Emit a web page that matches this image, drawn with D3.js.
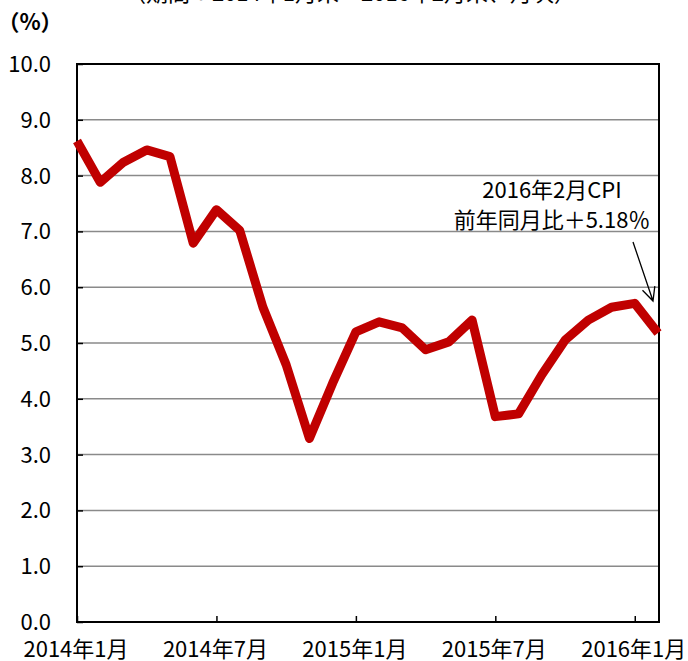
<!DOCTYPE html>
<html lang="ja">
<head>
<meta charset="utf-8">
<script src="https://cdn.jsdelivr.net/npm/d3@7"></script>
<style>
    html, body { margin: 0; padding: 0; background: #fff; }
    svg { display: block; font-family: "Noto Sans CJK JP", "Noto Sans", sans-serif; }
</style>
</head>
<body>
<div id="chart"></div>
<script>
// ===== Data =====
const months = [
    '2014-01', '2014-02', '2014-03', '2014-04', '2014-05', '2014-06',
    '2014-07', '2014-08', '2014-09', '2014-10', '2014-11', '2014-12',
    '2015-01', '2015-02', '2015-03', '2015-04', '2015-05', '2015-06',
    '2015-07', '2015-08', '2015-09', '2015-10', '2015-11', '2015-12',
    '2016-01', '2016-02'
];
const cpiYoY = [
    8.62, 7.88, 8.24, 8.46, 8.34, 6.79,
    7.39, 7.02, 5.64, 4.61, 3.29, 4.28,
    5.20, 5.38, 5.27, 4.88, 5.02, 5.41,
    3.68, 3.73, 4.43, 5.05, 5.41, 5.64,
    5.71, 5.18
];
const xTickMonths = ['2014-01', '2014-07', '2015-01', '2015-07', '2016-01'];
const xTickLabels = ['2014年1月', '2014年7月', '2015年1月', '2015年7月', '2016年1月'];
const yTicks = [0, 1, 2, 3, 4, 5, 6, 7, 8, 9, 10];

const titleText = '（期間：2014年1月末～2016年2月末、月次）';
const unitText = '（%）';
const noteLines = ['2016年2月CPI', '前年同月比＋5.18％'];

// ===== Config =====
const CONFIG = {
    width: 688,
    height: 661,
    plot: { left: 77, right: 659, top: 64, bottom: 622 },
    lineEnd: 658,
    colors: { line: '#c00000', grid: '#8a8a8a', frame: '#000' },
    fontSize: 22
};

function drawChart() {
    const p = CONFIG.plot;

    const svg = d3.select('#chart').append('svg')
        .attr('width', CONFIG.width)
        .attr('height', CONFIG.height);

    const x = d3.scalePoint()
        .domain(months)
        .range([p.left, CONFIG.lineEnd]);

    const y = d3.scaleLinear()
        .domain([0, 10])
        .range([p.bottom, p.top]);

    // grid lines
    svg.append('g')
        .selectAll('line')
        .data(yTicks.filter(d => d > 0 && d < 10))
        .enter()
        .append('line')
        .attr('x1', p.left)
        .attr('x2', p.right)
        .attr('y1', d => y(d))
        .attr('y2', d => y(d))
        .attr('stroke', CONFIG.colors.grid)
        .attr('stroke-width', 1.5);

    // y axis ticks (inward) + labels
    const yAxis = svg.append('g')
        .attr('transform', `translate(${p.left},0)`)
        .call(d3.axisRight(y).tickValues(yTicks).tickSize(6).tickFormat(''));
    yAxis.select('.domain').remove();
    yAxis.selectAll('line').attr('stroke', CONFIG.colors.frame).attr('stroke-width', 1.5);

    svg.append('g')
        .selectAll('text')
        .data(yTicks)
        .enter()
        .append('text')
        .attr('x', 51)
        .attr('y', d => y(d))
        .attr('dy', '0.36em')
        .attr('text-anchor', 'end')
        .attr('font-size', CONFIG.fontSize)
        .text(d => d.toFixed(1));

    // x axis ticks (inward) + labels
    const xAxis = svg.append('g')
        .attr('transform', `translate(0,${p.bottom})`)
        .call(d3.axisTop(x).tickValues(xTickMonths).tickSize(6).tickFormat(''));
    xAxis.select('.domain').remove();
    xAxis.selectAll('line').attr('stroke', CONFIG.colors.frame).attr('stroke-width', 1.5);

    svg.append('g')
        .selectAll('text')
        .data(xTickMonths)
        .enter()
        .append('text')
        .attr('x', d => x(d) - 1)
        .attr('y', 657)
        .attr('text-anchor', 'middle')
        .attr('font-size', CONFIG.fontSize)
        .text((d, i) => xTickLabels[i]);

    // frame
    svg.append('rect')
        .attr('x', p.left)
        .attr('y', p.top)
        .attr('width', p.right - p.left)
        .attr('height', p.bottom - p.top)
        .attr('fill', 'none')
        .attr('stroke', CONFIG.colors.frame)
        .attr('stroke-width', 2);

    // CPI line
    const line = d3.line()
        .x((d, i) => x(months[i]))
        .y(d => y(d));

    svg.append('path')
        .datum(cpiYoY)
        .attr('d', line)
        .attr('fill', 'none')
        .attr('stroke', CONFIG.colors.line)
        .attr('stroke-width', 9)
        .attr('stroke-linejoin', 'round');

    // title (cut off at the top) and unit
    svg.append('text')
        .attr('x', 350)
        .attr('y', 1)
        .attr('text-anchor', 'middle')
        .attr('font-size', CONFIG.fontSize)
        .text(titleText);

    svg.append('text')
        .attr('x', 30)
        .attr('y', 22)
        .attr('dy', '0.36em')
        .attr('text-anchor', 'middle')
        .attr('font-size', CONFIG.fontSize)
        .attr('font-weight', 'bold')
        .text(unitText);

    // annotation
    svg.append('g')
        .selectAll('text')
        .data(noteLines)
        .enter()
        .append('text')
        .attr('x', 552)
        .attr('y', (d, i) => 198 + i * 30)
        .attr('text-anchor', 'middle')
        .attr('font-size', CONFIG.fontSize)
        .text(d => d);

    // arrow pointing at the last point
    const from = [633, 242], to = [653, 301];
    const ang = Math.atan2(to[1] - from[1], to[0] - from[0]);
    const head = 15, spread = Math.PI / 7;
    const wing = s => [to[0] - head * Math.cos(ang + s), to[1] - head * Math.sin(ang + s)];
    svg.append('path')
        .attr('d', d3.line()([from, to]) + 'M' + wing(spread) + 'L' + to + 'L' + wing(-spread))
        .attr('fill', 'none')
        .attr('stroke', '#000')
        .attr('stroke-width', 1.3);
}

drawChart();
</script>
</body>
</html>
